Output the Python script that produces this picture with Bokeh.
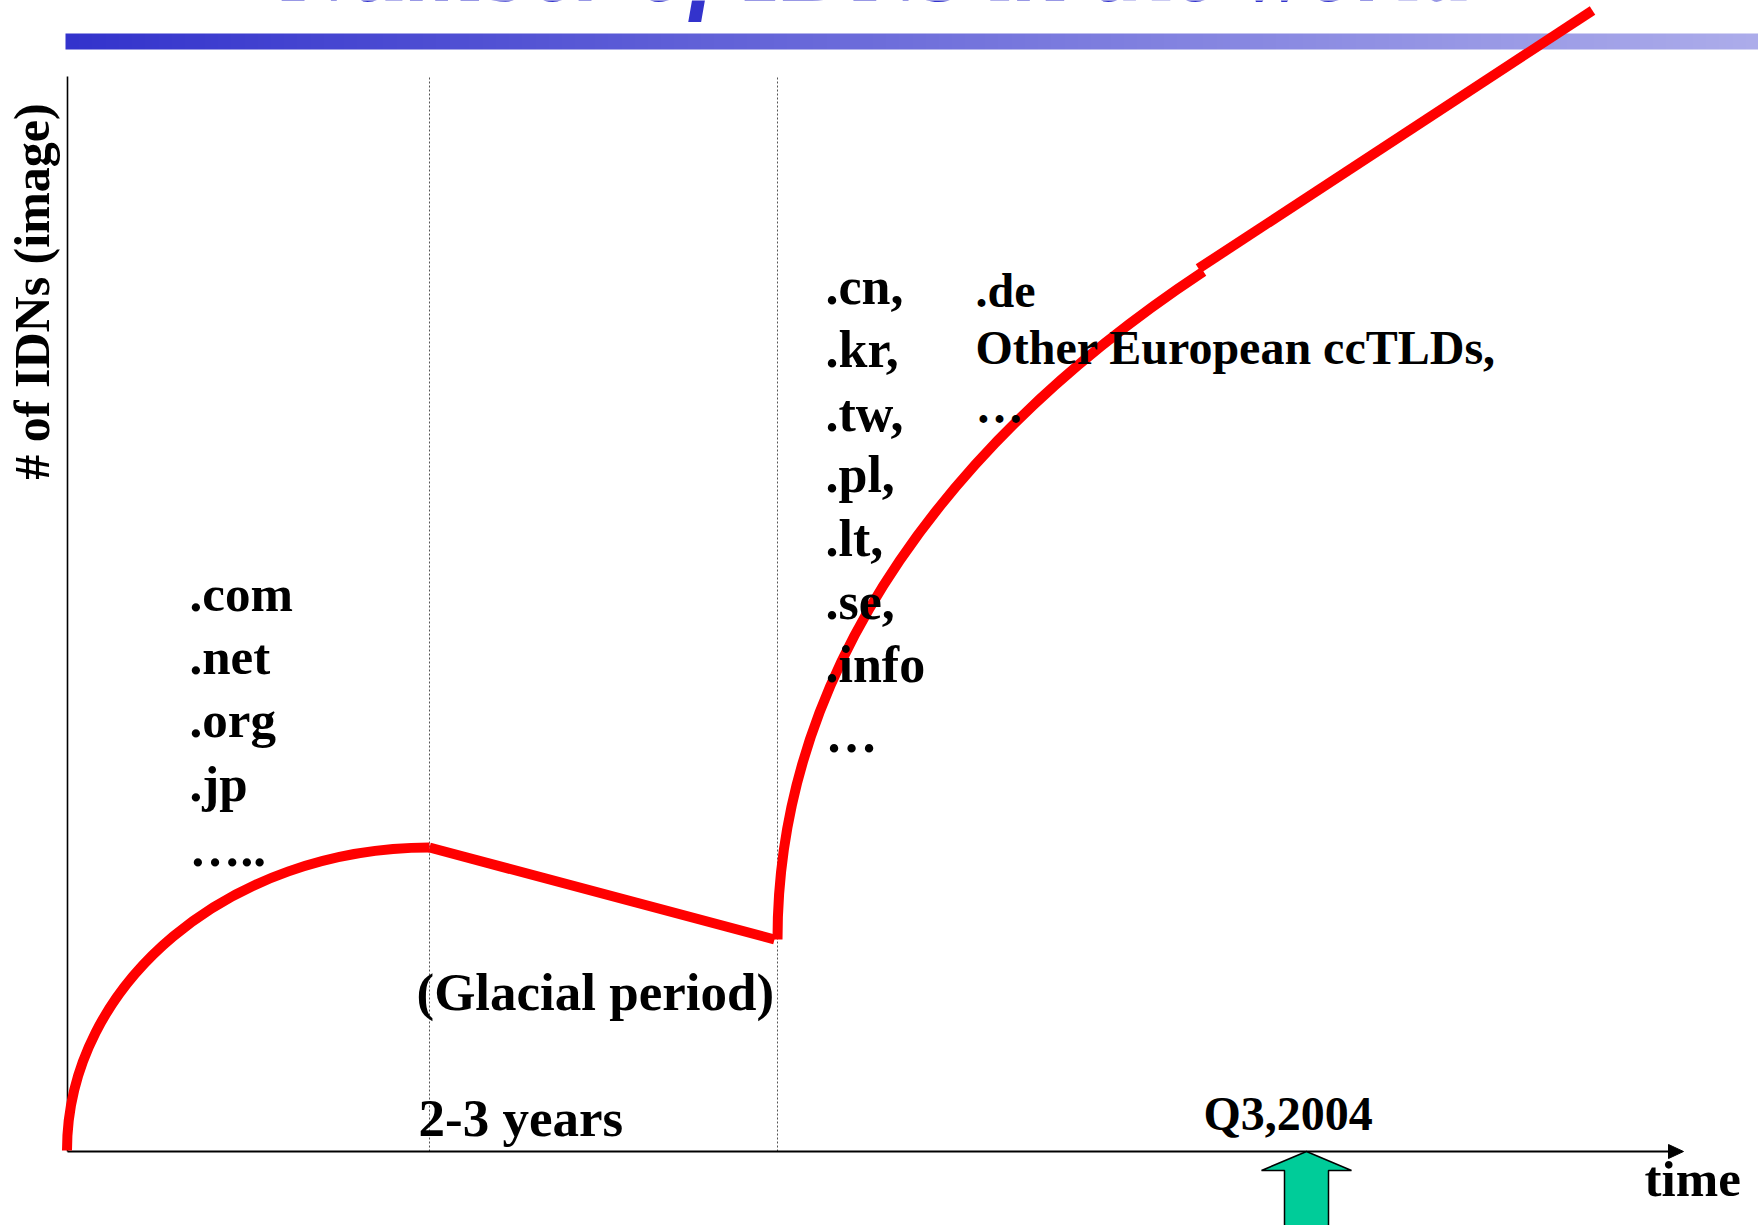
import numpy as np
from bokeh.plotting import figure
from bokeh.models import Range1d, Label
from bokeh.core.properties import value
from bokeh.embed import file_html
from bokeh.resources import INLINE

# ---------------- data (arbitrary "image" units: time -> x, number of IDNs -> y)
title_text = "Number of IDNs in the world"
y_label = "# of IDNs (image)"
x_label = "time"

axis_time_end = 1616
axis_idn_end = 1075
era_bounds = [362, 710]          # start / end of the "glacial period"
q3_2004 = 1239                   # marked moment on the time axis

# growth curve (bezier pieces: start, handle 1, handle 2, end)
wave1_t = [-0.5, -0.5, 162, 362]
wave1_n = [1, 168, 304, 304]
glacial_t = [362, 707]
glacial_n = [304, 212]
wave2_t = [710, 710, 894, 1136]
wave2_n = [212, 492, 720, 880]
trend_t = [1131, 1525]
trend_n = [883, 1141]

gtld_labels = [".com", ".net", ".org", ".jp", "….."]
gtld_t = 122
gtld_n = [539, 476, 413, 349, 284]

asia_labels = [".cn,", ".kr,", ".tw,", ".pl,", ".lt,", ".se,", ".info", "…"]
asia_t = 758
asia_n = [846, 783, 719, 658, 594, 531, 468, 398]

eu_labels = [".de", "Other European ccTLDs,", "…"]
eu_t = 908
eu_n = [844, 787, 728]

glacial_label = "(Glacial period)"
duration_label = "2-3 years"
q3_label = "Q3,2004"

# ---------------- figure (frame fills the whole canvas)
W, H = 1758, 1225
X0, Y0 = 67, 1151   # page position of the axes origin
p = figure(width=W, height=H,
           x_range=Range1d(-X0, -X0 + W),
           y_range=Range1d(Y0 - H, Y0),
           output_backend="svg", toolbar_location=None, min_border=0,
           title=None)
p.axis.visible = False
p.grid.visible = False
p.outline_line_color = None
p.background_fill_color = "white"
p.border_fill_color = "white"

FONT = value("Liberation Serif")
BASE_SHIFT = 0.36   # renderer places the baseline this many em lower than asked


def lift(y, size):
    """anchor position so that the rendered baseline lands at y"""
    return y + BASE_SHIFT * size


# gradient title bar
n = 256
c_left = np.array([51, 51, 204], dtype=float)
c_right = np.array([172, 172, 234], dtype=float)
img = np.zeros((1, n), dtype=np.uint32)
view = img.view(dtype=np.uint8).reshape((1, n, 4))
for i in range(n):
    f = i / (n - 1)
    view[0, i, :3] = np.round(c_left + (c_right - c_left) * f).astype(np.uint8)
    view[0, i, 3] = 255
p.image_rgba(image=[img], x=-2, y=1102, dw=1693, dh=16)

# title (mostly cut off at the top, as in the slide)
p.add_layout(Label(x=810, y=lift(1148, 98), text=title_text,
                   text_font="Liberation Serif", text_font_style="bold italic",
                   text_font_size="98px", text_color="#3333CC",
                   text_align="center", text_baseline="alphabetic"))

# era boundaries
p.segment(x0=era_bounds, y0=[0, 0], x1=era_bounds, y1=[axis_idn_end] * 2,
          line_color="#555555", line_width=1, line_dash="2 2")

# axes
p.line([0, 0], [0, axis_idn_end], line_color="black", line_width=1.6)
p.line([0, axis_time_end - 10], [0, 0], line_color="black", line_width=2)
p.patch([axis_time_end, axis_time_end - 15, axis_time_end - 15], [0, 7, -7],
        fill_color="black", line_color="black", line_width=1)

# growth curve
RED = "#FF0000"
LW = 10
p.bezier(x0=[wave1_t[0], wave2_t[0]], y0=[wave1_n[0], wave2_n[0]],
         cx0=[wave1_t[1], wave2_t[1]], cy0=[wave1_n[1], wave2_n[1]],
         cx1=[wave1_t[2], wave2_t[2]], cy1=[wave1_n[2], wave2_n[2]],
         x1=[wave1_t[3], wave2_t[3]], y1=[wave1_n[3], wave2_n[3]],
         line_color=RED, line_width=LW)
p.line(glacial_t, glacial_n, line_color=RED, line_width=LW)
p.line(trend_t, trend_n, line_color=RED, line_width=LW)


def txt(xs, ys, labels, size, **kw):
    p.text(x=xs, y=[lift(y, size) for y in ys], text=labels, text_font=FONT,
           text_font_style="bold", text_font_size=f"{size}px", text_color="black",
           text_align="left", text_baseline="alphabetic", **kw)


# text columns
txt([gtld_t] * len(gtld_labels), gtld_n, gtld_labels, 51)
txt([asia_t] * len(asia_labels), asia_n, asia_labels, 52)
txt([eu_t] * len(eu_labels), eu_n, eu_labels, 48)

txt([349], [140], [glacial_label], 53)
txt([351], [14], [duration_label], 53)
txt([1136], [21], [q3_label], 48)
txt([1577], [-46], [x_label], 51)

# rotated y label (shift applies sideways after rotation)
p.text(x=[-22 - BASE_SHIFT * 50 + 4], y=[860], text=[y_label], angle=np.pi / 2,
       text_font=FONT, text_font_style="bold", text_font_size="50px",
       text_align="center", text_baseline="alphabetic")

# marker arrow pointing at Q3,2004
arrow_dx = [0, 45, 22, 22, -22, -22, -45]
arrow_dy = [0, -19, -19, -90, -90, -19, -19]
p.patch([q3_2004 + d for d in arrow_dx], arrow_dy,
        fill_color="#00CC99", line_color="black", line_width=1.5)

open("out.html", "w").write(file_html(p, INLINE))
